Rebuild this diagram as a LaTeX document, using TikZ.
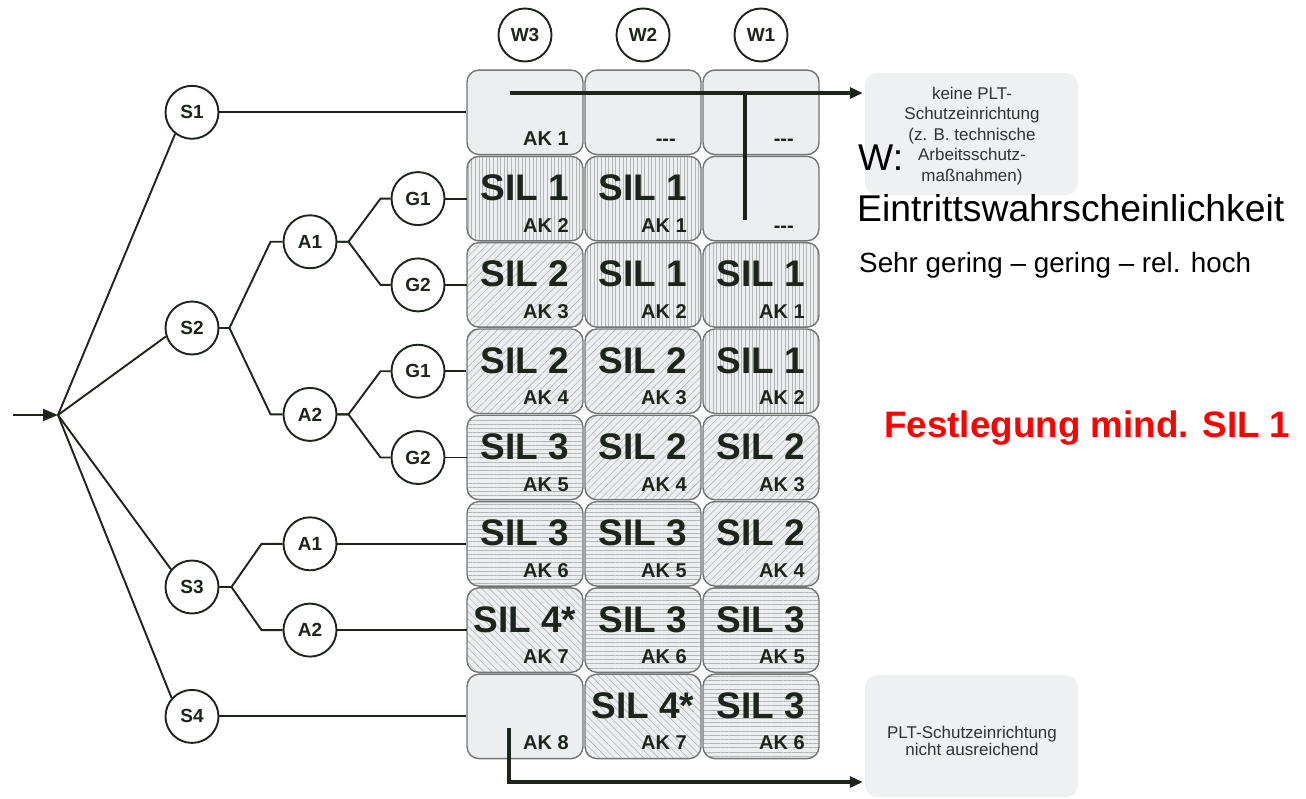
\documentclass[tikz,border=0pt]{standalone}
\usepackage{fontspec}
\setmainfont{Liberation Sans}
\usetikzlibrary{arrows.meta,patterns.meta}
\definecolor{cellbg}{RGB}{236,238,240}
\definecolor{boxbg}{RGB}{238,240,242}
\definecolor{ink}{RGB}{28,36,28}
\definecolor{hatch}{RGB}{180,182,182}
\definecolor{edge}{RGB}{115,117,117}
\definecolor{boxtext}{RGB}{50,50,50}
\newcommand\fsz[1]{\fontsize{#1}{#1}\selectfont}
\newcommand\silcell[6]{%
  \node[#4] (#1) at (#2,#3) {};
  \node[silt,anchor=base] (#1s) at (#2,#3+2) {#5};
  \node[akt] (#1a) at (#2+44,#3+33.5) {#6};
}
\newcommand\akcell[4]{%
  \node[cellP] (#1) at (#2,#3) {};
  \node[akt] (#1a) at (#2+44,#3+33.5) {#4};
}
\newcommand\dashcell[3]{%
  \node[cellP] (#1) at (#2,#3) {};
  \node[akt] (#1a) at (#2+33,#3+33.5) {-{}-{}-};
}
\begin{document}
\begin{tikzpicture}[x=1pt,y=-1pt,
  circ/.style={circle,draw=ink,line width=1.9pt,minimum size=53pt,inner sep=0pt,font=\fsz{19}\bfseries,text=ink,fill=white},
  treeline/.style={draw=ink,line width=1.9pt},
  cellbase/.style={rectangle,rounded corners=12pt,draw=edge,line width=1.4pt,minimum width=116pt,minimum height=84.5pt,inner sep=0pt},
  cellP/.style={cellbase,fill=cellbg},
  cellV/.style={cellbase,preaction={fill=cellbg},pattern={Lines[angle=90,distance=3.6pt,line width=0.6pt]},pattern color=hatch},
  cellNE/.style={cellbase,preaction={fill=cellbg},pattern={Lines[angle=45,distance=5.2pt,line width=0.6pt]},pattern color=hatch},
  cellH/.style={cellbase,preaction={fill=cellbg},pattern={Lines[angle=0,distance=4.2pt,line width=0.6pt]},pattern color=hatch},
  cellNW/.style={cellbase,preaction={fill=cellbg},pattern={Lines[angle=-45,distance=5.2pt,line width=0.6pt]},pattern color=hatch},
  silt/.style={font=\fsz{37}\bfseries,text=ink,inner sep=0pt},
  akt/.style={font=\fsz{20}\bfseries,text=ink,inner sep=0pt,anchor=base east},
  arr/.style={draw=ink,line width=3.2pt,-{Triangle[length=13pt,width=11pt]}},
  infobox/.style={rectangle,rounded corners=12pt,fill=boxbg,minimum width=213pt,minimum height=122pt,inner sep=0pt},
  infotext/.style={align=center,text=boxtext,inner sep=0pt},
  bigtext/.style={anchor=base west,inner sep=0pt,text=black},
]
\useasboundingbox (0,0) rectangle (1306,798);

% column heads
\node[circ] (W3) at (525,35) {W3};
\node[circ] (W2) at (643,35) {W2};
\node[circ] (W1) at (761,35) {W1};

% matrix cells
\akcell{c11}{525}{112.3}{AK 1}
\dashcell{c12}{643}{112.3}
\dashcell{c13}{761}{112.3}

\silcell{c21}{525}{198.6}{cellV}{SIL 1}{AK 2}
\silcell{c22}{643}{198.6}{cellV}{SIL 1}{AK 1}
\dashcell{c23}{761}{198.6}

\silcell{c31}{525}{284.9}{cellNE}{SIL 2}{AK 3}
\silcell{c32}{643}{284.9}{cellV}{SIL 1}{AK 2}
\silcell{c33}{761}{284.9}{cellV}{SIL 1}{AK 1}

\silcell{c41}{525}{371.2}{cellNE}{SIL 2}{AK 4}
\silcell{c42}{643}{371.2}{cellNE}{SIL 2}{AK 3}
\silcell{c43}{761}{371.2}{cellV}{SIL 1}{AK 2}

\silcell{c51}{525}{457.5}{cellH}{SIL 3}{AK 5}
\silcell{c52}{643}{457.5}{cellNE}{SIL 2}{AK 4}
\silcell{c53}{761}{457.5}{cellNE}{SIL 2}{AK 3}

\silcell{c61}{525}{543.8}{cellH}{SIL 3}{AK 6}
\silcell{c62}{643}{543.8}{cellH}{SIL 3}{AK 5}
\silcell{c63}{761}{543.8}{cellNE}{SIL 2}{AK 4}

\silcell{c71}{525}{630.1}{cellNW}{SIL 4*}{AK 7}
\silcell{c72}{643}{630.1}{cellH}{SIL 3}{AK 6}
\silcell{c73}{761}{630.1}{cellH}{SIL 3}{AK 5}

\akcell{c81}{525}{716.4}{AK 8}
\silcell{c82}{643}{716.4}{cellNW}{SIL 4*}{AK 7}
\silcell{c83}{761}{716.4}{cellH}{SIL 3}{AK 6}

% tree nodes
\node[circ] (S1) at (192,112.3) {S1};
\node[circ] (S2) at (192,328) {S2};
\node[circ] (S3) at (192,587) {S3};
\node[circ] (S4) at (192,716.4) {S4};
\node[circ] (A1) at (310,241.75) {A1};
\node[circ] (A2) at (310,414.4) {A2};
\node[circ] (A1b) at (310,543.8) {A1};
\node[circ] (A2b) at (310,630.1) {A2};
\node[circ] (G1) at (418,198.6) {G1};
\node[circ] (G2) at (418,284.9) {G2};
\node[circ] (G1b) at (418,371.2) {G1};
\node[circ] (G2b) at (418,457.5) {G2};

% input and fan-out
\coordinate (inp) at (13,415);
\coordinate (J) at (58,415);
\draw[treeline,-{Triangle[length=15pt,width=12pt]}] (inp) -- (J);
\draw[treeline] (J) -- (S1.232);
\draw[treeline] (J) -- (S2.198);
\draw[treeline] (J) -- (S3.140);
\draw[treeline] (J) -- (S4.138);

% branches
\draw[treeline] (S2.east) -- ++(10,0) -- ([xshift=-12pt]A1.west) -- (A1.west);
\draw[treeline] (S2.east) -- ++(10,0) -- ([xshift=-12pt]A2.west) -- (A2.west);
\draw[treeline] (A1.east) -- ++(11,0) -- ([xshift=-10pt]G1.west) -- (G1.west);
\draw[treeline] (A1.east) -- ++(11,0) -- ([xshift=-10pt]G2.west) -- (G2.west);
\draw[treeline] (A2.east) -- ++(11,0) -- ([xshift=-10pt]G1b.west) -- (G1b.west);
\draw[treeline] (A2.east) -- ++(11,0) -- ([xshift=-10pt]G2b.west) -- (G2b.west);
\draw[treeline] (S3.east) -- ++(12,0) -- ([xshift=-21pt]A1b.west) -- (A1b.west);
\draw[treeline] (S3.east) -- ++(12,0) -- ([xshift=-21pt]A2b.west) -- (A2b.west);

% leaves to matrix rows
\draw[treeline] (S1.east) -- (c11.west);
\draw[treeline] (G1.east) -- (c21.west);
\draw[treeline] (G2.east) -- (c31.west);
\draw[treeline] (G1b.east) -- (c41.west);
\draw[treeline] (G2b.east) -- (c51.west);
\draw[treeline] (A1b.east) -- (c61.west);
\draw[treeline] (A2b.east) -- (c71.west);
\draw[treeline] (S4.east) -- (c81.west);

% info boxes
\node[infobox] (topbox) at (971.5,134) {};
\node[infotext,font=\fontsize{17}{20.5}\selectfont] (toptext) at (972,136) {keine PLT-\\Schutzeinrichtung\\(z. B. technische\\Arbeitsschutz-\\maßnahmen)};
\node[infobox] (botbox) at (971.5,736) {};
\node[infotext,font=\fontsize{17}{17.5}\selectfont] (bottext) at (972,741) {PLT-Schutzeinrichtung\\nicht ausreichend};

% outcome arrows
\coordinate (ta) at (510,93);
\coordinate (tv) at (745,93);
\coordinate (tw) at (745,220);
\draw[arr,shorten >=2pt] (ta) -- (ta -| topbox.west);
\draw[draw=ink,line width=3.2pt] (tv) -- (tw);
\coordinate (ba) at (509,728);
\coordinate (bc) at (509,782);
\draw[arr,shorten >=2pt] (ba) -- (bc) -- (bc -| botbox.west);

% overlaid texts
\node[bigtext,font=\fsz{37.3}] (wlab) at (858,170) {W:};
\node[bigtext,font=\fsz{37.3}] (wname) at (857,221) {Eintrittswahrscheinlichkeit};
\node[bigtext,font=\fsz{27.8}] (wscale) at (859,272) {Sehr gering – gering – rel. hoch};
\node[bigtext,font=\fsz{36.8}\bfseries,text=red] (fest) at (884,437) {Festlegung mind. SIL 1};
\end{tikzpicture}
\end{document}
